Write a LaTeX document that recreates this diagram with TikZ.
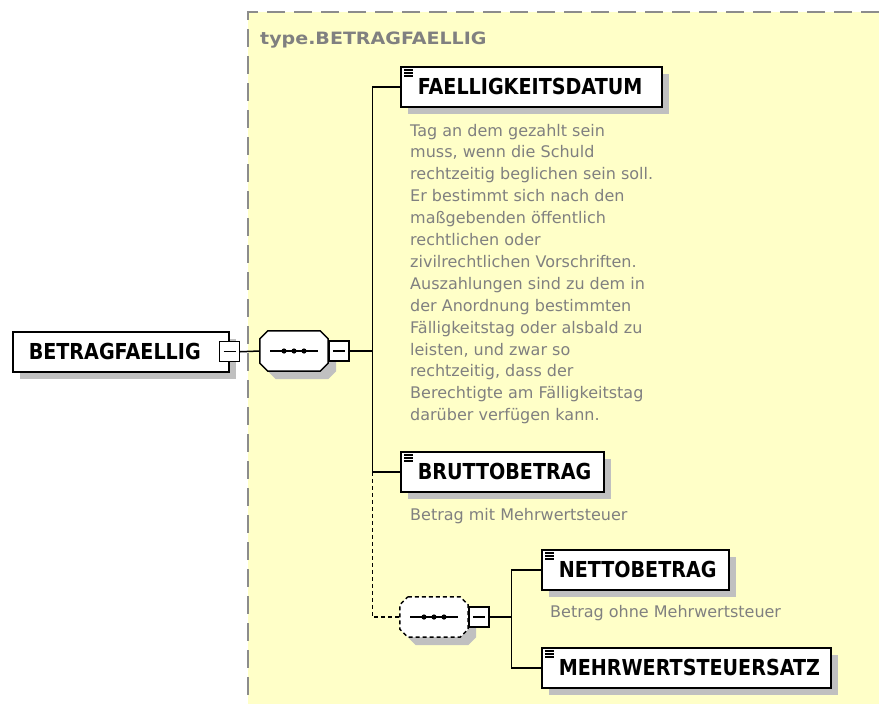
\documentclass[tikz,border=0pt]{standalone}
\usepackage{fontspec}
\usetikzlibrary{shadows}
\newfontfamily\elemfont{DejaVu Sans}[FakeStretch=0.87]
\newfontfamily\titlefont{DejaVu Sans}[FakeStretch=1.12]
\newfontfamily\descfont{DejaVu Sans}

\definecolor{bgyellow}{RGB}{255,255,200}
\definecolor{shadowgray}{RGB}{192,192,192}
\definecolor{framegray}{RGB}{140,140,140}
\definecolor{descgray}{RGB}{128,128,128}

\tikzset{
  elem/.style={draw, line width=1.5pt, fill=white, anchor=north west,
    minimum height=40pt, inner xsep=17pt, inner ysep=0pt,
    text height=16pt, text depth=0pt, align=left,
    font=\elemfont\bfseries\fontsize{22pt}{22pt}\selectfont,
    drop shadow={shadow xshift=7pt, shadow yshift=-7pt, fill=shadowgray, opacity=1}},
  minus/.style={draw, line width=1.3pt, fill=white, minimum size=20pt, inner sep=0pt,
    path picture={\draw[line width=1.3pt] ([xshift=4pt]path picture bounding box.west)
      -- ([xshift=-4pt]path picture bounding box.east);}},
  seqbox/.style={minimum width=68pt, minimum height=40pt, inner sep=0pt},
  desc/.style={anchor=base west, inner sep=0pt, text=descgray,
    font=\descfont\fontsize{16pt}{21.9pt}\selectfont},
  link/.style={line width=1.5pt},
  optlink/.style={line width=1.5pt, dash pattern=on 4pt off 3pt},
}

% octagon of a sequence
\newcommand\octpath[1]{([xshift=8pt]#1.north west) -- ([xshift=-8pt]#1.north east)
  -- ([yshift=-8pt]#1.north east) -- ([yshift=8pt]#1.south east)
  -- ([xshift=-8pt]#1.south east) -- ([xshift=8pt]#1.south west)
  -- ([yshift=8pt]#1.south west) -- ([yshift=-8pt]#1.north west) -- cycle}
\newcommand\seqdraw[2]{%
  \fill[shadowgray, transform canvas={shift={(8pt,-8pt)}}] \octpath{#1};
  \draw[#2, fill=white] \octpath{#1};
  \draw[line width=1.5pt] ([xshift=-24pt]#1.center) -- ([xshift=24pt]#1.center);
  \foreach \d in {-10,0,10} \fill ([xshift=\d pt]#1.center) circle (2.6pt);
}

\begin{document}
\begin{tikzpicture}[x=1pt,y=-1pt]
\useasboundingbox (0,0) rectangle (879,704);

% le fond du type
\fill[bgyellow] (248,12) rectangle (879,704);
\draw[framegray, line width=2pt, dash pattern=on 18pt off 9pt] (879,12) -- (248,12) -- (248,704);
\node[anchor=base west, inner sep=0pt, text=descgray,
  font=\titlefont\bfseries\fontsize{17pt}{17pt}\selectfont] (title) at (260,45) {type.BETRAGFAELLIG};

% racine
\node[elem, minimum width=216pt, inner xsep=16pt, text width=184pt] (root) at (12,331) {BETRAGFAELLIG};
\node[minus] (rootM) at (root.east) {};

% sequence 1
\node[seqbox] (seqA) at (294,351) {};
\seqdraw{seqA}{line width=1.5pt}
\node[minus, anchor=west] (seqAm) at (seqA.east) {};

\node[elem, minimum width=261pt, text width=227pt] (faellig) at (400,66) {FAELLIGKEITSDATUM};
\node[desc] (faelligtxt) at (410,136) {\parbox[t]{280pt}{\raggedright
  Tag an dem gezahlt sein\\
  muss, wenn die Schuld\\
  rechtzeitig beglichen sein soll.\\
  Er bestimmt sich nach den\\
  maßgebenden öffentlich\\
  rechtlichen oder\\
  zivilrechtlichen Vorschriften.\\
  Auszahlungen sind zu dem in\\
  der Anordnung bestimmten\\
  Fälligkeitstag oder alsbald zu\\
  leisten, und zwar so\\
  rechtzeitig, dass der\\
  Berechtigte am Fälligkeitstag\\
  darüber verfügen kann.}};

\node[elem, minimum width=203pt, text width=169pt] (brutto) at (400,451) {BRUTTOBETRAG};
\node[desc] (bruttotxt) at (410,520) {Betrag mit Mehrwertsteuer};

% sequence 2 (optionnelle)
\node[seqbox] (seqB) at (434,617) {};
\seqdraw{seqB}{line width=1.5pt, dash pattern=on 4pt off 3pt}
\node[minus, anchor=west] (seqBm) at (seqB.east) {};

\node[elem, minimum width=187pt, text width=153pt] (netto) at (541,549) {NETTOBETRAG};
\node[desc] (nettotxt) at (550,617) {Betrag ohne Mehrwertsteuer};
\node[elem, minimum width=289pt, text width=255pt] (mwst) at (541,647) {MEHRWERTSTEUERSATZ};

% les petites icones
\foreach \n in {faellig,brutto,netto,mwst}
  \foreach \k in {4,7,10}
    \draw[line width=1.2pt] ([shift={(4pt,-\k pt)}]\n.north west) -- ++(9,0);

% les liens
\draw[link] (rootM.east) -- (seqA.west);
\draw[link] (seqAm.east) -- ++(23,0) coordinate (busA);
\draw[link] (faellig.west) -| (busA) |- (brutto.west);
\draw[optlink] (busA |- brutto.west) |- (seqB.west);
\draw[link] (seqBm.east) -- ++(22,0) coordinate (busB);
\draw[link] (netto.west) -| (busB) |- (mwst.west);

\end{tikzpicture}
\end{document}
